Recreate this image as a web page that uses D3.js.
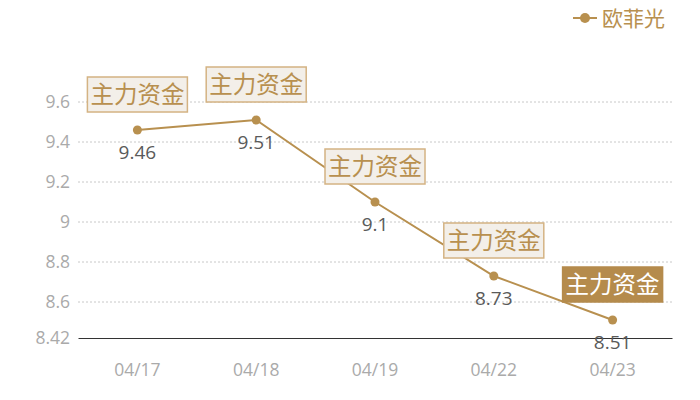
<!DOCTYPE html>
<html>
<head>
<meta charset="utf-8">
<script src="https://cdn.jsdelivr.net/npm/d3@7"></script>
<style>
  body { margin: 0; background: #fff; }
  svg { font-family: "Noto Sans CJK SC", "Noto Sans", sans-serif; }
</style>
</head>
<body>
<div id="chart"></div>
<script>
// data
const dates = ["04/17", "04/18", "04/19", "04/22", "04/23"];
const prices = [9.46, 9.51, 9.1, 8.73, 8.51];
const yTicks = [8.42, 8.6, 8.8, 9, 9.2, 9.4, 9.6];
const noteText = "主力资金";
const seriesName = "欧菲光";
const highlight = [false, false, false, false, true];

const width = 700;
const height = 400;
const margin = { top: 102, right: 28, bottom: 62, left: 78 };
const gold = "#b8904f";

const svg = d3.select("#chart")
  .append("svg")
  .attr("width", width)
  .attr("height", height);

const x = d3.scaleBand()
  .domain(dates)
  .range([margin.left, width - margin.right]);

const y = d3.scaleLinear()
  .domain([8.42, 9.6])
  .range([height - margin.bottom, margin.top]);

const cx = d => x(d) + x.bandwidth() / 2;

// grid lines
svg.append("g")
  .selectAll("line")
  .data(yTicks.slice(1))
  .join("line")
  .attr("x1", margin.left)
  .attr("x2", width - margin.right)
  .attr("y1", d => y(d))
  .attr("y2", d => y(d))
  .attr("stroke", "#c8c8c8")
  .attr("stroke-dasharray", "2,2");

// y axis labels
const yAxis = svg.append("g")
  .attr("transform", `translate(${margin.left},0)`)
  .call(d3.axisLeft(y).tickValues(yTicks).tickSize(0).tickPadding(8).tickFormat(d => d));
yAxis.select(".domain").remove();
yAxis.selectAll("text")
  .attr("fill", "#aaaaaa")
  .style("font-size", "17.5px")
  .style("font-family", "'Open Sans', 'Noto Sans', sans-serif");

// x axis
const xAxis = svg.append("g")
  .attr("transform", `translate(0,${y(8.42)})`)
  .call(d3.axisBottom(x).tickSize(0).tickPadding(26));
xAxis.select(".domain").attr("stroke", "#333").attr("stroke-width", 1);
xAxis.selectAll("text")
  .attr("fill", "#aaaaaa")
  .style("font-size", "17.5px")
  .style("font-family", "'Open Sans', 'Noto Sans', sans-serif");

// line
const line = d3.line()
  .x((d, i) => cx(dates[i]))
  .y(d => y(d));

svg.append("path")
  .datum(prices)
  .attr("d", line)
  .attr("fill", "none")
  .attr("stroke", gold)
  .attr("stroke-width", 2);

svg.append("g")
  .selectAll("circle")
  .data(prices)
  .join("circle")
  .attr("cx", (d, i) => cx(dates[i]))
  .attr("cy", d => y(d))
  .attr("r", 4.5)
  .attr("fill", gold);

// value labels
svg.append("g")
  .selectAll("text")
  .data(prices)
  .join("text")
  .attr("x", (d, i) => cx(dates[i]))
  .attr("y", d => y(d) + 29)
  .attr("text-anchor", "middle")
  .attr("fill", "#5a5a5a")
  .style("font-size", "19px")
  .style("font-family", "'Open Sans', 'Noto Sans', sans-serif")
  .text(d => d);

// annotation boxes
const notes = svg.append("g")
  .selectAll("g")
  .data(prices)
  .join("g")
  .attr("transform", (d, i) => `translate(${cx(dates[i])},${y(d) - 17})`);

notes.append("rect")
  .attr("x", -50)
  .attr("y", -36)
  .attr("width", 100)
  .attr("height", 35)
  .attr("fill", (d, i) => highlight[i] ? "#b58b4c" : "#f3efe9")
  .attr("stroke", (d, i) => highlight[i] ? "#b58b4c" : "#d4b383")
  .attr("stroke-width", 1.5);

notes.append("text")
  .attr("y", -10)
  .attr("text-anchor", "middle")
  .attr("fill", (d, i) => highlight[i] ? "#ffffff" : gold)
  .style("font-size", "23.5px")
  .text(noteText);

// legend
const legend = svg.append("g").attr("transform", "translate(573,18)");
legend.append("line")
  .attr("x1", 0).attr("x2", 24)
  .attr("stroke", gold).attr("stroke-width", 2);
legend.append("circle")
  .attr("cx", 12).attr("r", 5).attr("fill", gold);
legend.append("text")
  .attr("x", 29)
  .attr("y", 8)
  .attr("fill", gold)
  .style("font-size", "21px")
  .text(seriesName);
</script>
</body>
</html>
